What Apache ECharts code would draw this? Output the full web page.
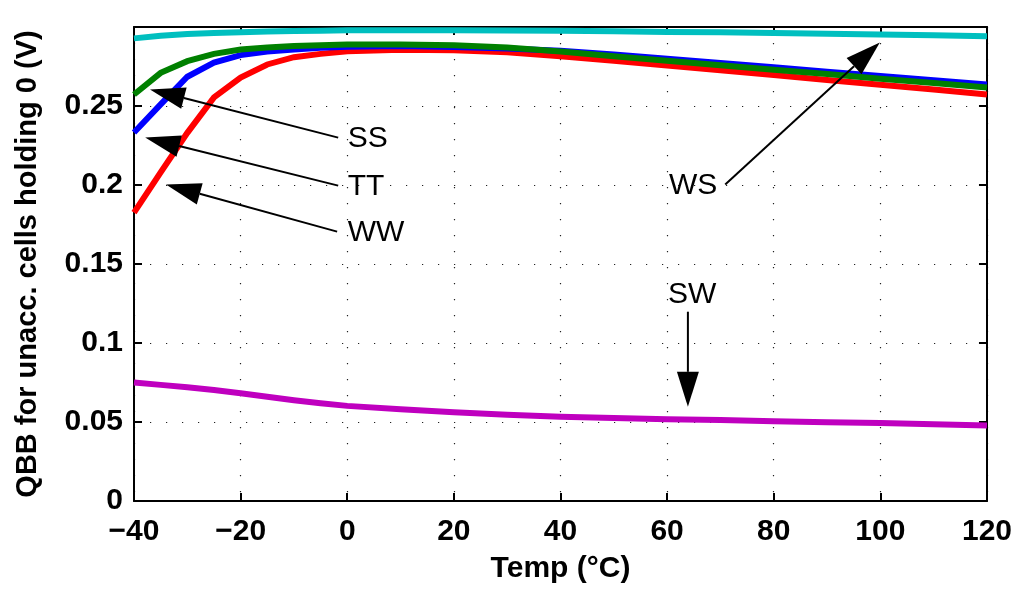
<!DOCTYPE html>
<html>
<head>
<meta charset="utf-8">
<script src="https://cdn.jsdelivr.net/npm/echarts@6/dist/echarts.min.js"></script>
<style>
  html, body { margin: 0; padding: 0; background: #fff; }
  #chart { width: 1015px; height: 590px; }
</style>
</head>
<body>
<div id="chart"></div>
<script>
// temperatures (°C)
const temps = [-40, -35, -30, -25, -20, -15, -10, -5, 0, 10, 20, 30, 40, 50, 60, 70, 80, 90, 100, 110, 120];

// QBB values (V) per corner
const ww = [0.1825, 0.208, 0.233, 0.2554, 0.268, 0.2763, 0.2809, 0.2830, 0.2847, 0.2856, 0.2853, 0.2840, 0.2815, 0.2787, 0.2757, 0.2726, 0.2696, 0.2665, 0.2634, 0.2604, 0.2573];
const tt = [0.2332, 0.251, 0.2685, 0.2775, 0.2822, 0.2845, 0.2858, 0.2868, 0.2875, 0.2880, 0.2874, 0.2864, 0.2850, 0.2826, 0.2799, 0.2772, 0.2745, 0.2717, 0.2690, 0.2663, 0.2636];
const ss = [0.2573, 0.271, 0.2784, 0.2830, 0.2858, 0.2870, 0.2879, 0.2885, 0.2889, 0.2890, 0.2884, 0.2870, 0.2845, 0.2815, 0.2787, 0.2758, 0.2730, 0.2702, 0.2673, 0.2645, 0.2617];
const ws = [0.2928, 0.2945, 0.2955, 0.2962, 0.2967, 0.2972, 0.2975, 0.2977, 0.2979, 0.2980, 0.2980, 0.2978, 0.2976, 0.2973, 0.2969, 0.2966, 0.2962, 0.2958, 0.2953, 0.2948, 0.2942];
const sw = [0.0750, 0.0735, 0.0720, 0.0702, 0.0682, 0.0660, 0.0638, 0.0619, 0.0602, 0.0580, 0.0562, 0.0546, 0.0534, 0.0525, 0.0518, 0.0512, 0.0505, 0.0499, 0.0493, 0.0486, 0.0478];

// annotations: label, text anchor, arrow tail, arrow tip (data units)
const annoLabels = ['SS', 'TT', 'WW', 'WS', 'SW'];
const annoText = [[0.1, 0.229], [0.1, 0.1990], [0.1, 0.1700], [69.4, 0.1998], [64.7, 0.1308]];
const annoAlign = ['left', 'left', 'left', 'right', 'center'];
const annoTail = [[-1.7, 0.230], [-1.7, 0.1996], [-1.9, 0.1705], [70.9, 0.2003], [63.9, 0.1198]];
const annoTip = [[-37.0, 0.2605], [-37.9, 0.230], [-34.0, 0.2003], [99.9, 0.2902], [63.9, 0.0596]];

const FONT = "'Liberation Sans', Arial, Helvetica, sans-serif";

const chart = echarts.init(document.getElementById('chart'));

const pair = arr => temps.map((t, i) => [t, arr[i]]);

const curve = (name, data, color) => ({
  name,
  type: 'line',
  data: pair(data),
  showSymbol: false,
  symbol: 'none',
  lineStyle: { color, width: 6, cap: 'butt', join: 'miter' },
  itemStyle: { color },
  animation: false,
  z: 3
});

const annoData = annoLabels.map((l, i) => [annoTail[i][0], annoTail[i][1], annoTip[i][0], annoTip[i][1], annoText[i][0], annoText[i][1], i]);

const option = {
  animation: false,
  backgroundColor: '#fff',
  grid: { left: 134, right: 28, top: 27, bottom: 89, containLabel: false },
  xAxis: [
    {
      type: 'value', min: -40, max: 120, interval: 20,
      name: 'Temp (°C)', nameLocation: 'middle', nameGap: 53,
      nameTextStyle: { fontFamily: FONT, fontWeight: 'bold', fontSize: 30, color: '#000' },
      axisLine: { show: true, onZero: false, lineStyle: { color: '#000', width: 2 } },
      axisTick: { show: true, inside: true, length: 8, lineStyle: { color: '#000', width: 2 } },
      axisLabel: {
        margin: 16, fontFamily: FONT, fontWeight: 'bold', fontSize: 30, color: '#000',
        formatter: v => (v < 0 ? '\u2212' + (-v) : String(v))
      },
      splitLine: { show: true, lineStyle: { color: '#222', width: 1.2, type: [1.2, 14.8] } }
    },
    {
      type: 'value', min: -40, max: 120, interval: 20, position: 'top',
      axisLine: { show: true, onZero: false, lineStyle: { color: '#000', width: 2 } },
      axisTick: { show: true, inside: true, length: 8, lineStyle: { color: '#000', width: 2 } },
      axisLabel: { show: false },
      splitLine: { show: false }
    }
  ],
  yAxis: [
    {
      type: 'value', min: 0, max: 0.3, interval: 0.05,
      name: 'QBB for unacc. cells holding 0 (V)', nameLocation: 'middle', nameGap: 92,
      nameTextStyle: { fontFamily: FONT, fontWeight: 'bold', fontSize: 29, color: '#000' },
      axisLine: { show: true, onZero: false, lineStyle: { color: '#000', width: 2 } },
      axisTick: { show: true, inside: true, length: 8, lineStyle: { color: '#000', width: 2 } },
      axisLabel: {
        margin: 11, fontFamily: FONT, fontWeight: 'bold', fontSize: 30, color: '#000',
        showMaxLabel: false
      },
      splitLine: { show: true, lineStyle: { color: '#222', width: 1.2, type: [1.2, 14.8] } }
    },
    {
      type: 'value', min: 0, max: 0.3, interval: 0.05, position: 'right',
      axisLine: { show: true, onZero: false, lineStyle: { color: '#000', width: 2 } },
      axisTick: { show: true, inside: true, length: 8, lineStyle: { color: '#000', width: 2 } },
      axisLabel: { show: false },
      splitLine: { show: false }
    }
  ],
  series: [
    curve('SW', sw, '#bf00bf'),
    curve('WW', ww, '#ff0000'),
    curve('TT', tt, '#0000ff'),
    curve('SS', ss, '#008000'),
    curve('WS', ws, '#00bfbf'),
    {
      name: 'annotations',
      type: 'custom',
      data: annoData,
      z: 5,
      silent: true,
      clip: false,
      renderItem: (params, api) => {
        const tail = api.coord([api.value(0), api.value(1)]);
        const tip = api.coord([api.value(2), api.value(3)]);
        const txt = api.coord([api.value(4), api.value(5)]);
        const idx = api.value(6);
        const dx = tip[0] - tail[0], dy = tip[1] - tail[1];
        const len = Math.sqrt(dx * dx + dy * dy);
        const ux = dx / len, uy = dy / len;
        const headLen = 35, headHalf = 11;
        const bx = tip[0] - ux * headLen, by = tip[1] - uy * headLen;
        return {
          type: 'group',
          children: [
            {
              type: 'line',
              shape: { x1: tail[0], y1: tail[1], x2: bx, y2: by },
              style: { stroke: '#000', lineWidth: 2 }
            },
            {
              type: 'polygon',
              shape: { points: [tip, [bx - uy * headHalf, by + ux * headHalf], [bx + uy * headHalf, by - ux * headHalf]] },
              style: { fill: '#000' }
            },
            {
              type: 'text',
              x: txt[0], y: txt[1],
              style: {
                text: annoLabels[idx],
                fontFamily: FONT, fontSize: 30, fill: '#000',
                align: annoAlign[idx], verticalAlign: 'middle'
              }
            }
          ]
        };
      }
    }
  ]
};

chart.setOption(option);
</script>
</body>
</html>
